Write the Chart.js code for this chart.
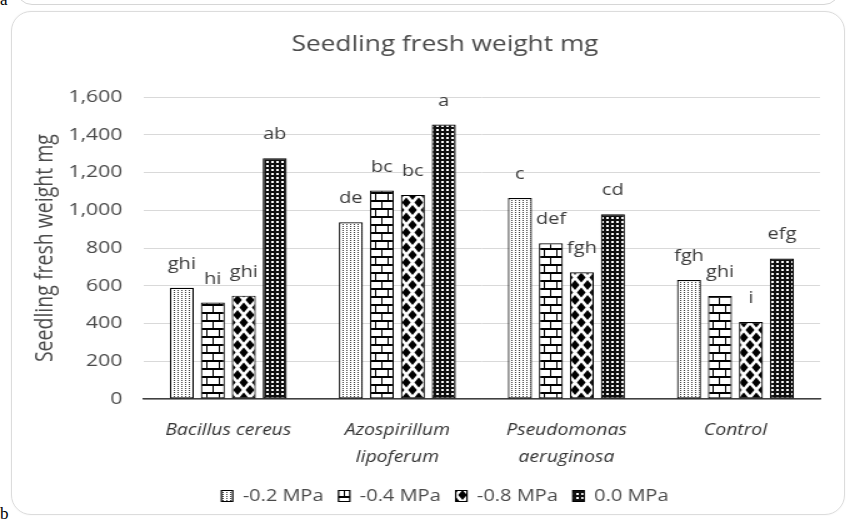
<!DOCTYPE html>
<html>
<head>
<meta charset="utf-8">
<script src="https://cdn.jsdelivr.net/npm/chart.js@4.4.1/dist/chart.umd.min.js"></script>
<style>
  html, body { margin: 0; padding: 0; background: #fff; }
  body { width: 850px; height: 521px; position: relative; overflow: hidden; }
  .box-top { position: absolute; left: 16px; top: -40px; width: 822px; height: 43px; border: 1px solid #d6d6d6; border-radius: 16px; }
  .box-main { position: absolute; left: 11px; top: 11px; width: 832px; height: 502px; border: 1.5px solid #dcdcdc; border-radius: 20px; box-shadow: 0 0 2px rgba(0,0,0,0.06); }
  .tag { position: absolute; left: 0; font-family: "Liberation Serif", serif; font-size: 17px; color: #000; line-height: 1; }
  #wrap { position: absolute; left: 0; top: 0; width: 680px; height: 521px; transform: scaleX(1.25); transform-origin: 0 0; }
</style>
</head>
<body>
<div class="box-top"></div>
<div class="box-main"></div>
<div class="tag" style="top:-9px">a</div>
<div class="tag" style="top:505px">b</div>
<div id="wrap"><canvas id="chart" width="680" height="521" style="width:680px;height:521px"></canvas></div>
<script>
const categories = ['Bacillus cereus', ['Azospirillum', 'lipoferum'], ['Pseudomonas', 'aeruginosa'], 'Control'];
const seriesNames = ['-0.2 MPa', '-0.4 MPa', '-0.8 MPa', '0.0 MPa'];
const mpa02 = [590, 937, 1065, 631];
const mpa04 = [511, 1105, 826, 546];
const mpa08 = [548, 1082, 672, 408];
const mpa00 = [1277, 1455, 980, 745];
const letters02 = ['ghi', 'de', 'c', 'fgh'];
const letters04 = ['hi', 'bc', 'def', 'ghi'];
const letters08 = ['ghi', 'bc', 'fgh', 'i'];
const letters00 = ['ab', 'a', 'cd', 'efg'];
const yTicks = [0, 200, 400, 600, 800, 1000, 1200, 1400, 1600];

const values = [mpa02, mpa04, mpa08, mpa00];
const letters = [letters02, letters04, letters08, letters00];
const FONT = '"Open Sans", "DejaVu Sans", sans-serif';
const TEXT = '#4a4a4a';

function makePattern(w, h, draw) {
    const c = document.createElement('canvas');
    c.width = w;
    c.height = h;
    const g = c.getContext('2d');
    draw(g, w, h);
    return g.createPattern(c, 'repeat');
}

// fine dots
const dotFill = makePattern(3, 2, (g, w, h) => {
    g.fillStyle = '#fff'; g.fillRect(0, 0, w, h);
    g.fillStyle = '#3a3a3a'; g.fillRect(1, 0, 1, 1);
});

// bricks
const brickFill = makePattern(10, 16, (g, w, h) => {
    g.fillStyle = '#fff'; g.fillRect(0, 0, w, h);
    g.fillStyle = '#000';
    g.fillRect(0, 0, w, 2);
    g.fillRect(0, 8, w, 2);
    g.fillRect(0, 0, 1, 8);
    g.fillRect(5, 8, 1, 8);
});

// diamonds
const diamondFill = makePattern(10, 15, (g, w, h) => {
    g.fillStyle = '#fff'; g.fillRect(0, 0, w, h);
    g.fillStyle = '#000';
    const centers = [[5, 7.5], [0, 0], [w, 0], [0, h], [w, h]];
    centers.forEach(([cx, cy]) => {
        g.beginPath();
        g.moveTo(cx, cy - 5);
        g.lineTo(cx + 3.5, cy);
        g.lineTo(cx, cy + 5);
        g.lineTo(cx - 3.5, cy);
        g.closePath();
        g.fill();
    });
});

// dark grid
const darkFill = makePattern(4, 4, (g, w, h) => {
    g.fillStyle = '#111'; g.fillRect(0, 0, w, h);
    g.fillStyle = '#fff'; g.fillRect(1, 1, 2, 2);
});

const fills = [dotFill, brickFill, diamondFill, darkFill];

// letters over bars
const letterPlugin = {
    id: 'letters',
    afterDatasetsDraw(chart) {
        const ctx = chart.ctx;
        ctx.save();
        ctx.font = '16px ' + FONT;
        ctx.fillStyle = '#3a3a3a';
        ctx.textAlign = 'center';
        ctx.textBaseline = 'alphabetic';
        chart.data.datasets.forEach((ds, i) => {
            const meta = chart.getDatasetMeta(i);
            meta.data.forEach((bar, j) => {
                ctx.fillText(letters[i][j], bar.x, bar.y - 19);
            });
        });
        ctx.restore();
    }
};

new Chart(document.getElementById('chart'), {
    type: 'bar',
    data: {
        labels: categories,
        datasets: seriesNames.map((name, i) => ({
            label: name,
            data: values[i],
            backgroundColor: fills[i],
            borderColor: '#000',
            borderWidth: 1.2,
            borderSkipped: false,
            categoryPercentage: 0.733,
            barPercentage: 0.774
        }))
    },
    options: {
        responsive: false,
        animation: false,
        devicePixelRatio: 1,
        layout: { padding: { left: 56, right: 24, top: 0, bottom: 7 } },
        plugins: {
            title: {
                display: true,
                text: 'Seedling fresh weight mg',
                color: TEXT,
                font: { family: FONT, size: 21, weight: 'normal' },
                padding: { top: 32, bottom: 40 }
            },
            legend: {
                position: 'bottom',
                labels: {
                    boxWidth: 9,
                    boxHeight: 11,
                    padding: 12,
                    color: TEXT,
                    font: { family: FONT, size: 16 }
                }
            },
            tooltip: { enabled: false }
        },
        scales: {
            x: {
                grid: { display: false, drawTicks: false },
                border: { color: '#404040', width: 1.5 },
                ticks: {
                    color: '#333',
                    maxRotation: 0,
                    padding: 18,
                    font: { family: FONT, size: 15.5, style: 'italic', lineHeight: 1.74 }
                },
                afterFit: (s) => { s.height = 77; }
            },
            y: {
                min: 0,
                max: 1600,
                afterBuildTicks: (s) => { s.ticks = yTicks.map(v => ({ value: v })); },
                grid: { color: '#d9d9d9', lineWidth: 1, drawTicks: false },
                border: { display: false },
                ticks: {
                    color: TEXT,
                    padding: 17,
                    font: { family: FONT, size: 17 },
                    callback: (v) => v.toLocaleString('en-US')
                },
                title: {
                    display: true,
                    text: 'Seedling fresh weight mg',
                    color: TEXT,
                    font: { family: FONT, size: 19.5 },
                    padding: { top: -31, bottom: 0 }
                },
                afterFit: (s) => { s.width = 59; }
            }
        }
    },
    plugins: [letterPlugin]
});
</script>
</body>
</html>
